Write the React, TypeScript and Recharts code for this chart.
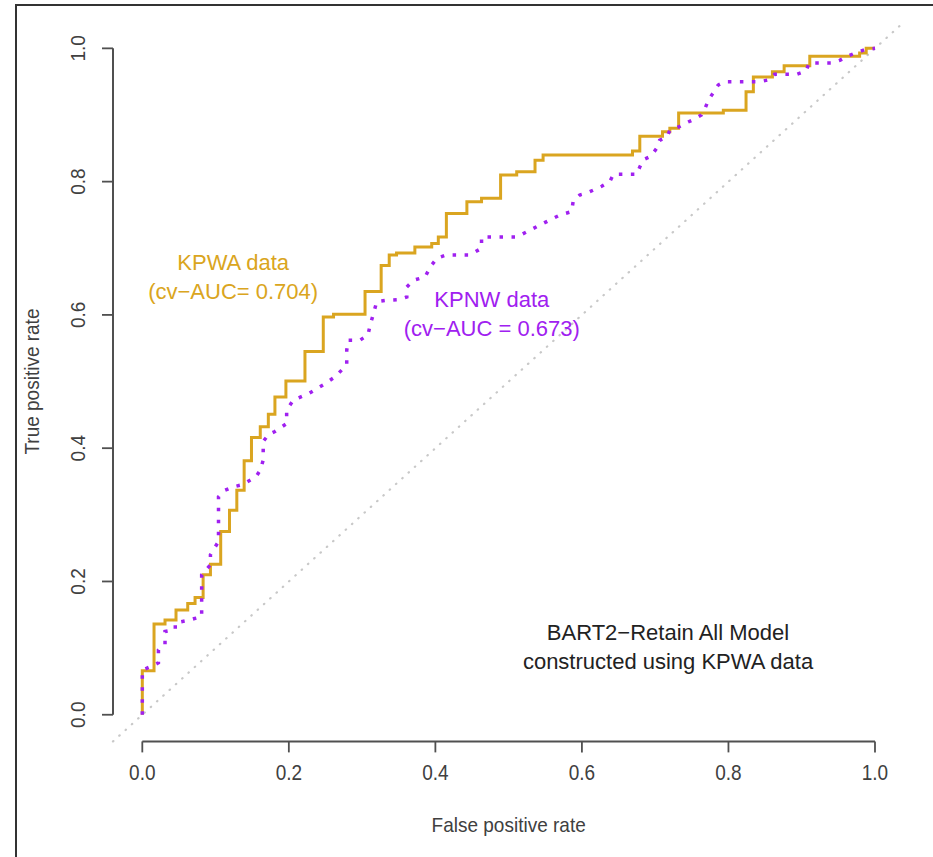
import React from 'react';
import { LineChart, Line, XAxis, YAxis, ReferenceLine, ReferenceDot } from 'recharts';

// KPWA (gold, solid) ROC step corners: each point = (FPR after the step, TPR reached)
const kpwaFpr = [0, 0.016, 0.031, 0.046, 0.062, 0.072, 0.083, 0.093, 0.107, 0.119, 0.129, 0.139, 0.149, 0.161, 0.172, 0.181, 0.196, 0.222, 0.247, 0.261, 0.304, 0.326, 0.337, 0.347, 0.372, 0.395, 0.404, 0.415, 0.443, 0.463, 0.489, 0.511, 0.536, 0.547, 0.669, 0.679, 0.710, 0.720, 0.732, 0.793, 0.824, 0.834, 0.860, 0.876, 0.911, 0.979, 0.988, 1];
const kpwaTpr = [0, 0.066, 0.136, 0.142, 0.157, 0.167, 0.176, 0.210, 0.226, 0.275, 0.307, 0.337, 0.381, 0.416, 0.432, 0.451, 0.477, 0.501, 0.545, 0.597, 0.601, 0.635, 0.674, 0.690, 0.693, 0.702, 0.707, 0.717, 0.752, 0.770, 0.775, 0.810, 0.815, 0.832, 0.840, 0.846, 0.868, 0.875, 0.880, 0.903, 0.907, 0.935, 0.957, 0.965, 0.974, 0.988, 0.993, 1];

// KPNW (purple, dotted) ROC points
const kpnwFpr = [0, 0, 0.013, 0.022, 0.022, 0.031, 0.031, 0.045, 0.045, 0.06, 0.07, 0.081, 0.081, 0.093, 0.093, 0.104, 0.104, 0.113, 0.124, 0.136, 0.147, 0.155, 0.161, 0.165, 0.165, 0.172, 0.181, 0.197, 0.197, 0.206, 0.227, 0.247, 0.263, 0.279, 0.279, 0.281, 0.297, 0.308, 0.311, 0.315, 0.32, 0.334, 0.35, 0.361, 0.361, 0.37, 0.386, 0.393, 0.402, 0.415, 0.447, 0.463, 0.463, 0.511, 0.529, 0.543, 0.57, 0.586, 0.588, 0.597, 0.607, 0.627, 0.638, 0.643, 0.675, 0.679, 0.684, 0.694, 0.702, 0.706, 0.716, 0.72, 0.732, 0.742, 0.752, 0.763, 0.768, 0.773, 0.779, 0.786, 0.795, 0.843, 0.856, 0.863, 0.893, 0.906, 0.91, 0.941, 0.952, 0.962, 0.973, 0.986, 1];
const kpnwTpr = [0, 0.067, 0.073, 0.078, 0.097, 0.105, 0.125, 0.128, 0.138, 0.141, 0.144, 0.147, 0.21, 0.225, 0.24, 0.26, 0.327, 0.337, 0.342, 0.345, 0.352, 0.357, 0.367, 0.382, 0.41, 0.42, 0.425, 0.437, 0.457, 0.472, 0.482, 0.495, 0.507, 0.525, 0.547, 0.562, 0.562, 0.57, 0.585, 0.6, 0.62, 0.622, 0.623, 0.627, 0.642, 0.652, 0.657, 0.672, 0.685, 0.69, 0.69, 0.7, 0.717, 0.717, 0.727, 0.735, 0.75, 0.755, 0.77, 0.78, 0.783, 0.793, 0.8, 0.811, 0.811, 0.822, 0.833, 0.838, 0.85, 0.862, 0.867, 0.877, 0.882, 0.888, 0.893, 0.9, 0.91, 0.923, 0.933, 0.945, 0.95, 0.95, 0.953, 0.961, 0.961, 0.966, 0.978, 0.978, 0.982, 0.988, 0.993, 0.998, 1];

const tickValues = [0, 0.2, 0.4, 0.6, 0.8, 1];
const xTitle = 'False positive rate';
const yTitle = 'True positive rate';
const kpwaLabel = ['KPWA data', '(cv\u2212AUC= 0.704)'];
const kpnwLabel = ['KPNW data', '(cv\u2212AUC = 0.673)'];
const modelLabel = ['BART2\u2212Retain All Model', 'constructed using KPWA data'];
const kpwaLabelPos = { x: 0.124, y: 0.657 };
const kpnwLabelPos = { x: 0.477, y: 0.602 };
const modelLabelPos = { x: 0.7175, y: 0.101 };

const kpwaData = kpwaFpr.map((x, i) => ({ x, y: kpwaTpr[i] }));
const kpnwData = kpnwFpr.map((x, i) => ({ x, y: kpnwTpr[i] }));

const GOLD = '#DAA520';
const PURPLE = '#A020F0';
const FONT = '"Liberation Sans", Arial, Helvetica, sans-serif';
const AXIS = '#505050';

const XTick = (props: any) => {
  const { x, y, payload } = props;
  return (
    <text transform={`translate(${x},${y + 18.6}) scale(1,1.12)`} textAnchor="middle" dominantBaseline="central"
      fontFamily={FONT} fontSize={19} fill="#404040">{Number(payload.value).toFixed(1)}</text>
  );
};

const YTick = (props: any) => {
  const { x, y, payload } = props;
  return (
    <text transform={`translate(${x - 22},${y}) rotate(-90) scale(1,1.08)`} textAnchor="middle" dominantBaseline="central"
      fontFamily={FONT} fontSize={19} fill="#404040">{Number(payload.value).toFixed(1)}</text>
  );
};

const twoLine = (lines: string[], color: string) => (props: any) => {
  const { cx, cy } = props;
  return (
    <g>
      <text x={cx} y={cy - 14.5} textAnchor="middle" dominantBaseline="central" fontFamily={FONT} fontSize={22} fill={color}>{lines[0]}</text>
      <text x={cx} y={cy + 14.5} textAnchor="middle" dominantBaseline="central" fontFamily={FONT} fontSize={22} fill={color}>{lines[1]}</text>
    </g>
  );
};

export default function App() {
  return (
    <div style={{ position: 'absolute', left: 0, top: 0, width: 933, height: 857, background: '#fff' }}>
      <div style={{ position: 'absolute', left: 15, top: 4, width: 918, height: 853, borderTop: '2px solid #333', borderLeft: '2px solid #333', boxSizing: 'border-box' }} />
      <div style={{ position: 'absolute', left: 0, top: 0 }}>
        <LineChart width={933} height={857} margin={{ top: 21.7, right: 28.7, bottom: 15.6, left: 0 }}>
          <XAxis type="number" dataKey="x" domain={[-0.04, 1.04]} allowDataOverflow ticks={tickValues}
            axisLine={false} tickSize={11} tickMargin={2} height={100}
            tickLine={{ stroke: AXIS, strokeWidth: 1.8 }} tick={<XTick />}
            label={{
              content: (p: any) => {
                const vb = p.viewBox || { x: 113, y: 741.4, width: 791.3 };
                return (
                  <text transform={`translate(${vb.x + vb.width / 2},${vb.y + 83.6}) scale(1,1.1)`} textAnchor="middle" dominantBaseline="central"
                    fontFamily={FONT} fontSize={19} fill="#404040">{xTitle}</text>
                );
              },
            }} />
          <YAxis type="number" dataKey="y" domain={[-0.04, 1.04]} allowDataOverflow ticks={tickValues}
            axisLine={false} tickSize={11} tickMargin={2} width={113}
            tickLine={{ stroke: AXIS, strokeWidth: 1.8 }} tick={<YTick />}
            label={{
              content: (p: any) => {
                const vb = p.viewBox || { x: 0, y: 21.7, width: 113, height: 719.7 };
                const cy = vb.y + vb.height / 2;
                return (
                  <text transform={`translate(32,${cy}) rotate(-90) scale(1,1.08)`} textAnchor="middle" dominantBaseline="central"
                    fontFamily={FONT} fontSize={19} fill="#404040">{yTitle}</text>
                );
              },
            }} />
          <ReferenceLine segment={[{ x: -0.04, y: -0.04 }, { x: 1.04, y: 1.04 }]} stroke="#c8c8c8" strokeWidth={2.2}
            strokeDasharray="0.5 8" strokeLinecap="round" ifOverflow="visible" />
          <ReferenceLine segment={[{ x: 0, y: -0.04 }, { x: 1, y: -0.04 }]} stroke={AXIS} strokeWidth={2} ifOverflow="visible" />
          <ReferenceLine segment={[{ x: -0.04, y: 0 }, { x: -0.04, y: 1 }]} stroke={AXIS} strokeWidth={2} ifOverflow="visible" />
          <Line data={kpwaData} dataKey="y" type="stepBefore" stroke={GOLD} strokeWidth={3} dot={false} activeDot={false} isAnimationActive={false} />
          <Line data={kpnwData} dataKey="y" type="linear" stroke={PURPLE} strokeWidth={3.5} strokeDasharray="3.5 8.5" dot={false} activeDot={false} isAnimationActive={false} />
          <ReferenceDot x={kpwaLabelPos.x} y={kpwaLabelPos.y} r={0} ifOverflow="visible" shape={twoLine(kpwaLabel, GOLD)} />
          <ReferenceDot x={kpnwLabelPos.x} y={kpnwLabelPos.y} r={0} ifOverflow="visible" shape={twoLine(kpnwLabel, PURPLE)} />
          <ReferenceDot x={modelLabelPos.x} y={modelLabelPos.y} r={0} ifOverflow="visible" shape={twoLine(modelLabel, '#222')} />
        </LineChart>
      </div>
    </div>
  );
}
